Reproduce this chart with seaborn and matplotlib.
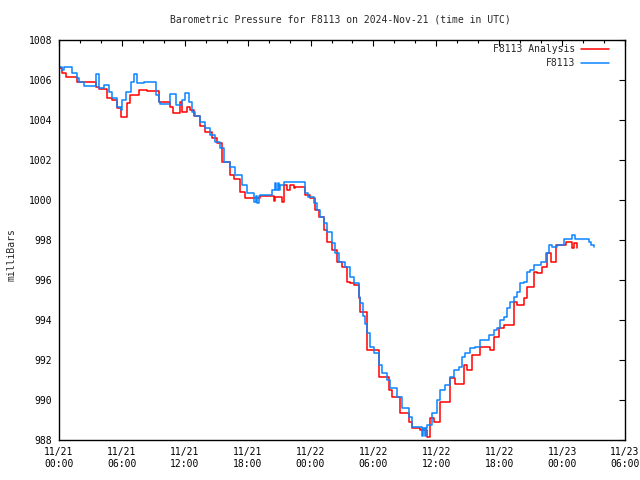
import seaborn as sns
import matplotlib.pyplot as plt
import pandas as pd

# hours since 2024-11-21 00:00 UTC, pressure in mb
obs_hours = [0.0, 0.32, 0.5, 1.27, 1.75, 1.9, 2.4, 3.5, 3.82, 4.3, 4.78, 5.1, 5.57, 5.9,
             6.05, 6.37, 6.85, 7.17, 7.4, 8.1, 9.24, 9.55, 9.65, 10.6, 11.2, 11.7, 12.04,
             12.36, 12.68, 12.99, 13.47, 13.95, 14.43, 14.9, 15.38, 15.7, 16.34, 16.8,
             17.45, 17.93, 18.57, 18.75, 18.9, 19.05, 19.2, 20.3, 20.6, 20.7, 20.9, 21.0,
             21.1, 21.42, 23.5, 23.8, 24.3, 24.6, 24.93, 25.25, 25.56, 26.04, 26.36, 26.68,
             27.3, 27.8, 28.1, 28.6, 28.75, 29.0, 29.2, 29.39, 29.71, 30.02, 30.5, 30.82,
             31.3, 31.6, 32.25, 32.73, 33.37, 33.69, 34.64, 34.75, 34.9, 35.0, 35.12, 35.6,
             36.07, 36.39, 36.87, 37.35, 37.67, 38.14, 38.46, 38.78, 39.25, 39.73, 40.21,
             41.0, 41.48, 41.8, 42.12, 42.44, 42.76, 43.07, 43.39, 43.71, 44.03, 44.35,
             44.67, 44.98, 45.3, 45.94, 46.42, 46.74, 47.06, 47.53, 48.17, 48.97, 49.22,
             50.56, 50.8, 51.0]
obs_mb = [1006.63, 1006.5, 1006.63, 1006.33, 1006.1, 1005.92, 1005.7, 1006.3, 1005.58,
          1005.75, 1005.42, 1005.1, 1004.67, 1004.5, 1005.0, 1005.4, 1005.92, 1006.3,
          1005.83, 1005.9, 1005.25, 1004.92, 1004.8, 1005.3, 1004.75, 1005.0, 1005.33,
          1004.92, 1004.4, 1004.22, 1003.92, 1003.58, 1003.25, 1002.92, 1002.58, 1001.92,
          1001.67, 1001.25, 1000.75, 1000.33, 999.9, 1000.2, 999.85, 1000.2, 1000.25,
          1000.5, 1000.83, 1000.5, 1000.83, 1000.5, 1000.75, 1000.92, 1000.33, 1000.17,
          999.83, 999.5, 999.17, 998.83, 998.42, 997.83, 997.33, 996.92, 996.67, 996.17,
          995.83, 995.17, 994.83, 994.2, 993.8, 993.33, 992.67, 992.33, 991.75, 991.33,
          991.0, 990.58, 990.17, 989.58, 989.17, 988.67, 988.2, 988.6, 988.2, 988.6,
          988.75, 989.33, 990.0, 990.5, 990.75, 991.17, 991.5, 991.67, 992.17, 992.33,
          992.58, 992.67, 993.0, 993.25, 993.5, 993.58, 994.0, 994.17, 994.58, 994.92,
          995.17, 995.42, 995.83, 995.92, 996.42, 996.5, 996.75, 996.92, 997.33, 997.75,
          997.67, 997.75, 998.03, 998.25, 998.03, 997.9, 997.75, 997.67]

ana_hours = [0.0, 0.32, 0.64, 1.75, 3.5, 3.82, 4.62, 5.1, 5.57, 5.9, 6.53, 6.75, 7.64,
             8.44, 9.55, 10.6, 10.92, 11.56, 11.72, 12.2, 12.52, 12.84, 13.47, 13.95,
             14.59, 15.06, 15.54, 16.34, 16.66, 17.3, 17.77, 19.2, 20.47, 20.63, 21.26,
             21.42, 21.74, 22.06, 22.38, 22.54, 23.5, 23.97, 24.45, 24.77, 25.24, 25.56,
             26.04, 26.52, 27.0, 27.47, 27.79, 28.11, 28.6, 28.75, 29.39, 30.5, 31.46,
             31.78, 32.57, 33.37, 33.69, 34.48, 35.12, 35.44, 35.76, 36.39, 37.35, 37.82,
             38.62, 38.93, 39.41, 40.21, 41.16, 41.48, 41.96, 42.44, 43.39, 43.71, 44.35,
             44.67, 45.3, 45.62, 46.1, 46.58, 46.9, 47.37, 48.33, 48.97, 49.13, 49.45]
ana_mb = [1006.58, 1006.33, 1006.13, 1005.92, 1005.67, 1005.53, 1005.08, 1005.0, 1004.58,
          1004.17, 1004.83, 1005.25, 1005.5, 1005.47, 1004.9, 1004.67, 1004.33, 1004.92,
          1004.42, 1004.67, 1004.5, 1004.22, 1003.72, 1003.42, 1003.08, 1002.83, 1001.92,
          1001.25, 1001.05, 1000.42, 1000.08, 1000.2, 999.97, 1000.13, 999.92, 1000.75,
          1000.5, 1000.75, 1000.58, 1000.67, 1000.25, 1000.08, 999.5, 999.17, 998.5,
          997.92, 997.5, 996.92, 996.67, 995.92, 995.83, 995.75, 995.08, 994.42, 992.5,
          991.13, 990.5, 990.13, 989.33, 988.92, 988.58, 988.5, 988.17, 989.08, 988.92,
          989.92, 991.08, 990.8, 991.75, 991.5, 992.25, 992.67, 992.5, 993.17, 993.58,
          993.75, 994.92, 994.75, 995.08, 995.67, 996.42, 996.33, 996.67, 997.33, 996.92,
          997.75, 997.92, 997.58, 997.83, 997.6]

tick_hours = list(range(0, 55, 6))
tick_labels = ["11/21\n00:00", "11/21\n06:00", "11/21\n12:00", "11/21\n18:00",
               "11/22\n00:00", "11/22\n06:00", "11/22\n12:00", "11/22\n18:00",
               "11/23\n00:00", "11/23\n06:00"]

df = pd.concat([
    pd.DataFrame({"hour": ana_hours, "mb": ana_mb, "series": "F8113 Analysis"}),
    pd.DataFrame({"hour": obs_hours, "mb": obs_mb, "series": "F8113"}),
])

sns.set_theme(style="white")
plt.rcParams["font.family"] = ["DejaVu Sans Mono"]
plt.rcParams["font.size"] = 7

fig = plt.figure(figsize=(6.4, 4.8), dpi=100)
ax = fig.add_axes([59 / 640, 40 / 480, 566 / 640, 400 / 480])

sns.lineplot(data=df, x="hour", y="mb", hue="series", estimator=None,
             palette={"F8113 Analysis": "#ff0000", "F8113": "#0a84ff"},
             drawstyle="steps-post", linewidth=1.1, ax=ax)

ax.set_xlim(0, 54)
ax.set_ylim(988, 1008)
ax.set_xticks(tick_hours)
ax.set_xticklabels(tick_labels)
ax.set_xticks(range(0, 55, 2), minor=True)
ax.set_yticks(range(988, 1009, 2))
ax.tick_params(axis="both", which="both", direction="in", top=True, right=True,
               colors="black", labelsize=7, pad=5)
ax.tick_params(which="major", length=4, width=0.8)
ax.tick_params(which="minor", length=2, width=0.8)
for s in ax.spines.values():
    s.set_color("black")
    s.set_linewidth(1.0)
ax.set_xlabel("")
ax.set_ylabel("")

ax.legend(loc="upper right", bbox_to_anchor=(0.972, 0.99), markerfirst=False,
          frameon=False, borderaxespad=0, borderpad=0, handlelength=2.9,
          handletextpad=0.6, labelspacing=0.45, fontsize=7)

fig.text(340 / 640, 1 - 19 / 480, "Barometric Pressure for F8113 on 2024-Nov-21 (time in UTC)",
         ha="center", va="center", fontsize=7)
fig.text(12 / 640, 1 - 255 / 480, "milliBars", rotation=90, ha="center", va="center",
         fontsize=7)

fig.savefig("out.png", dpi=100)
